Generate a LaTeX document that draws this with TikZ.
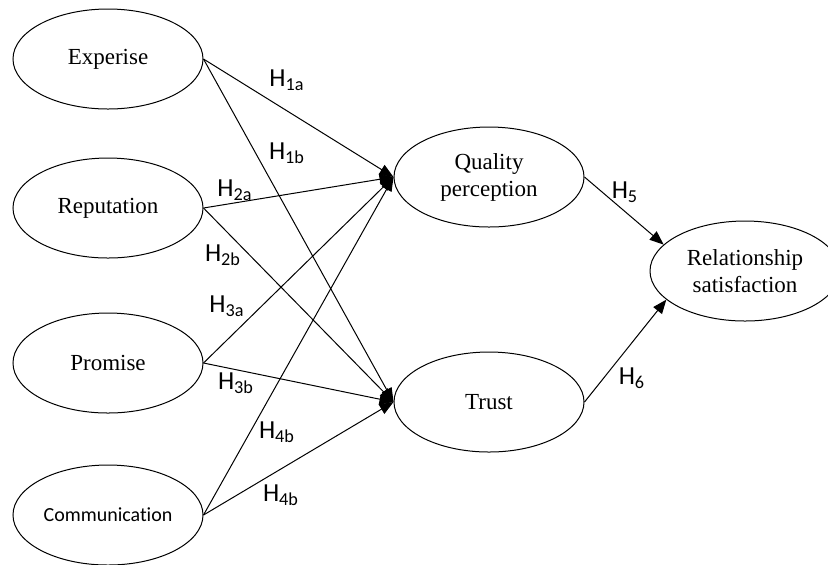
\documentclass[tikz,border=0pt]{standalone}
\usepackage{fontspec}
\setmainfont{Liberation Serif}
\newfontfamily\calibri[Ligatures=NoCommon]{Carlito}
\usetikzlibrary{shapes.geometric,arrows.meta}
\newcommand{\hlab}[1]{H\textsubscript{#1}}
\begin{document}
\begin{tikzpicture}[x=0.5pt,y=-0.5pt,
    construct/.style={draw,ellipse,line width=0.5pt,minimum width=95pt,minimum height=50pt,
      inner sep=0pt,align=center,font=\fontsize{11.5}{13.5}\selectfont},
    hyp/.style={inner sep=0pt,font=\calibri\fontsize{13}{15}\selectfont},
    path/.style={line width=0.5pt,-{Triangle[length=7pt,width=5.5pt]}}]
      \useasboundingbox (0,0) rectangle (828,564);
      \clip (0,0) rectangle (828,564);
      \draw
        (108,59) node[construct] (exp){Experise}
        (108,208) node[construct] (rep){Reputation}
        (108,363) node[construct] (pro){Promise}
        (108,515) node[construct,font=\calibri\fontsize{10}{12}\selectfont] (com){Communication}
        (489,177) node[construct] (qp){Quality\\perception}
        (489,402) node[construct] (tr){Trust}
        (745,271) node[construct] (rs){Relationship\\satisfaction};
      \draw
        (287,80) node[hyp] (h1a){\hlab{1a}}
        (287,153) node[hyp] (h1b){\hlab{1b}}
        (235,190) node[hyp] (h2a){\hlab{2a}}
        (223,255) node[hyp] (h2b){\hlab{2b}}
        (227,306) node[hyp] (h3a){\hlab{3a}}
        (236,383) node[hyp] (h3b){\hlab{3b}}
        (277,432) node[hyp] (h4a){\hlab{4b}}
        (281,495) node[hyp] (h4b){\hlab{4b}}
        (625,192) node[hyp] (h5){\hlab{5}}
        (632,378) node[hyp] (h6){\hlab{6}};
      \begin{scope}[path]
        \draw (exp.east) to (qp.west);
        \draw (exp.east) to (tr.west);
        \draw (rep.east) to (qp.west);
        \draw (rep.east) to (tr.west);
        \draw (pro.east) to (qp.west);
        \draw (pro.east) to (tr.west);
        \draw (com.east) to (qp.west);
        \draw (com.east) to (tr.west);
        \draw (qp.east) to (rs.162);
        \draw (tr.east) to (rs.200);
      \end{scope}
    \end{tikzpicture}
\end{document}
